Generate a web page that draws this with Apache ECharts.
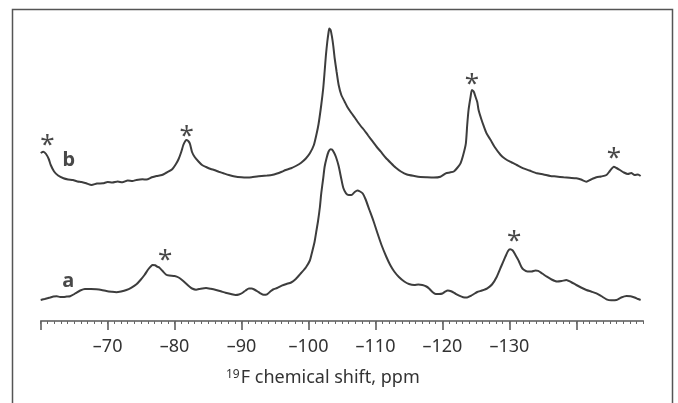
<!DOCTYPE html>
<html>
<head>
<meta charset="utf-8">
<script src="https://cdn.jsdelivr.net/npm/echarts@6/dist/echarts.min.js"></script>
<style>
html,body{margin:0;padding:0;background:#fff;}
#chart{width:678px;height:403px;}
</style>
</head>
<body>
<div id="chart"></div>
<script>
// Trace b (upper spectrum): chemical shift (ppm) and intensity (arb. units)
var ppmB = [-60.0,-60.4,-60.8,-61.2,-61.5,-62.0,-62.6,-63.4,-64.1,-64.8,-65.5,-66.1,-66.8,-67.6,-68.4,-69.3,-70.0,-70.7,-71.5,-72.2,-73.0,-73.7,-74.3,-75.2,-75.8,-76.6,-77.3,-78.1,-78.8,-79.6,-80.2,-80.6,-81.0,-81.3,-81.6,-81.8,-82.1,-82.3,-82.6,-83.0,-83.6,-84.1,-84.7,-85.4,-85.9,-86.6,-87.4,-88.1,-89.0,-90.0,-90.8,-91.5,-92.3,-93.0,-93.8,-94.5,-95.3,-96.0,-96.6,-97.4,-98.1,-98.9,-99.6,-100.2,-100.8,-101.2,-101.5,-101.9,-102.2,-102.4,-102.6,-102.8,-103.0,-103.1,-103.3,-103.5,-103.7,-103.9,-104.2,-104.5,-104.9,-105.4,-105.8,-106.4,-106.9,-107.3,-107.8,-108.3,-108.9,-109.6,-110.2,-110.8,-111.5,-112.3,-113.0,-113.8,-114.7,-115.8,-116.7,-117.7,-118.7,-119.7,-120.5,-121.1,-121.7,-122.2,-122.7,-123.1,-123.5,-123.7,-123.9,-124.2,-124.4,-124.7,-124.9,-125.2,-125.4,-125.8,-126.2,-126.6,-127.2,-127.8,-128.7,-129.3,-130.1,-131.1,-132.1,-133.0,-134.1,-135.1,-136.1,-137.0,-138.1,-139.0,-140.0,-140.7,-141.5,-142.2,-143.0,-143.7,-144.5,-145.0,-145.6,-146.0,-146.5,-147.1,-147.7,-148.2,-148.7,-149.2,-149.6];
var intB = [168,169.3,167,162,156,149.5,145.5,142.7,141.5,141,139.5,139,137.7,136,137.5,137.7,139,138.5,139.5,138.7,140.5,140,141,141.7,141.5,143.7,145,146,148.5,151.5,157,162,169.3,176,180,181,179.5,177,169,164,159.3,156,154,152,151,149.3,147.5,146,144.5,143.7,143.5,143.7,144.5,145,145.5,146,147.5,149.3,151,152.7,155,158.3,162.5,167.7,176,187,197,216,233,249,266,279,289,292.5,291,284.3,275,263,249,236,226,219.3,214,208,203.5,199.5,195,191,185.5,179.3,174,169.3,163.5,158,153.5,149.5,146.5,145,144,143.7,143.5,144.3,147.7,148.5,149.5,153,157.7,166,177.7,196,211,224,231,229,225,219,211,202,194.3,187.5,181,174,166,162.5,159.3,156,152.7,150.5,147.7,146.5,145,144.5,143.7,143.2,142.7,141.5,139.3,141.5,143.7,144.5,146,150,154.3,153,151,148.5,147,148,146,146.5,145];

// Trace a (lower spectrum)
var ppmA = [-60.0,-60.6,-61.4,-61.9,-62.4,-62.9,-63.4,-63.9,-64.4,-64.9,-65.3,-65.9,-66.6,-67.5,-68.3,-69.1,-69.8,-70.6,-71.3,-72.0,-72.8,-73.5,-74.3,-74.9,-75.5,-76.1,-76.5,-76.7,-77.1,-77.4,-77.7,-78.2,-78.7,-79.2,-80.0,-80.6,-81.2,-81.7,-82.2,-82.6,-83.2,-83.9,-84.7,-85.4,-86.2,-86.9,-87.6,-88.4,-89.1,-89.6,-90.1,-90.6,-91.1,-91.5,-91.9,-92.4,-92.8,-93.3,-93.8,-94.3,-94.7,-95.3,-96.0,-96.7,-97.4,-98.1,-98.9,-99.6,-100.2,-100.5,-100.9,-101.2,-101.4,-101.7,-101.9,-102.2,-102.4,-102.7,-103.0,-103.3,-103.5,-103.8,-104.1,-104.5,-104.9,-105.2,-105.6,-106.0,-106.4,-106.9,-107.3,-107.7,-108.1,-108.5,-109.1,-109.7,-110.3,-110.9,-111.6,-112.2,-112.8,-113.5,-114.3,-115.0,-115.8,-116.4,-117.0,-117.6,-118.0,-118.5,-119.0,-119.5,-120.0,-120.4,-120.8,-121.3,-121.9,-122.5,-123.1,-123.7,-124.2,-124.7,-125.2,-125.9,-126.7,-127.4,-128.1,-128.8,-129.4,-129.8,-130.1,-130.5,-130.9,-131.4,-131.8,-132.1,-132.7,-133.3,-133.9,-134.3,-134.9,-135.6,-136.3,-137.1,-137.8,-138.5,-139.2,-140.0,-140.7,-141.5,-142.2,-143.0,-143.7,-144.5,-145.2,-146.0,-146.7,-147.5,-148.1,-148.7,-149.2,-149.6];
var intA = [21,22,23.5,24.5,24.7,24,24,24.5,24.8,26.5,28.2,30.5,32,32,31.7,31,30,29.2,28.7,29.5,31,33.2,36.7,41,46,52,55,56,55.7,54.3,53.5,50,46.5,45.5,45,43.5,40.5,37.5,34.5,32.5,31.3,32.3,33,32.2,31,29.7,28.3,27,26,26.5,28,30.5,32.5,32.5,31.5,29.5,27.7,26.2,26.7,29.5,31.5,33,35.3,37,38.5,42,48,53.5,60.5,68,79,91,99,114,127.7,143,154,163,169.5,171.8,171.5,168.5,164,155,142,133,127.7,126,126,129,130.5,129.5,127.5,122,111,100,87.7,76,64.5,56,49.5,44,39.5,37,36,36.5,36,34.5,32.5,29,27,27,27.5,29.3,30.5,29.7,27.5,25.3,23.7,23.5,25,27,29,30.5,32.7,36.5,44,55,64.3,70,71.7,70.5,66,60,54,51.5,49.5,49.5,50.5,50.2,47.5,44.3,41.5,39.5,40,41,39,36,33.5,31,29.5,27.7,25,21.7,20.7,21,23.5,25,24.7,23.5,22,21];

// Annotations: asterisks (spinning sidebands) and trace labels
var starPpm = [-61.0, -81.8, -124.4, -145.6, -78.6, -130.7];
var starInt = [181.7, 190, 242.7, 168, 66, 85];
var traceLabels = ['b', 'a'];
var traceLabelPpm = [-64.2, -64.1];
var traceLabelInt = [161, 39.3];

// Axis
var tickLabels = [-70, -80, -90, -100, -110, -120, -130];
var majorTicks = [-60, -70, -80, -90, -100, -110, -120, -130, -140];
var xTitle = 'F chemical shift, ppm';
var xTitleSup = '19';

function zip(xs, ys) { return xs.map(function (x, i) { return [x, ys[i]]; }); }

var FONT = '"Noto Sans", "Open Sans", sans-serif';
var chart = echarts.init(document.getElementById('chart'), null, { renderer: 'canvas' });

var option = {
  animation: false,
  backgroundColor: '#ffffff',
  grid: { left: 40.7, right: 34.7, top: 21, bottom: 82 },
  title: {
    text: '{s|' + xTitleSup + '}{n|' + xTitle + '}',
    left: 221, top: 364,
    textStyle: {
      fontWeight: 'normal',
      rich: {
        s: { fontSize: 12, fontFamily: FONT, fontWeight: 'normal', color: '#333', verticalAlign: 'top', padding: [0, 1, 6, 0] },
        n: { fontSize: 18, fontFamily: FONT, fontWeight: 'normal', color: '#333' }
      }
    }
  },
  xAxis: [{
    type: 'value', min: -150, max: -60, interval: 10, inverse: true,
    axisLine: { show: true, lineStyle: { color: '#555', width: 1.5 } },
    axisTick: { show: true, inside: false, length: 9, customValues: majorTicks, lineStyle: { color: '#555', width: 1.5 } },
    axisLabel: {
      show: true, customValues: tickLabels, margin: 17,
      fontSize: 18, fontFamily: FONT, color: '#333',
      formatter: function (v) { return tickLabels.indexOf(v) >= 0 ? '\u2013' + Math.abs(v) : ''; }
    },
    splitLine: { show: false }
  }, {
    type: 'value', min: -150, max: -60, interval: 1, inverse: true, position: 'bottom',
    axisLine: { show: false },
    axisTick: { show: true, inside: false, length: 3, lineStyle: { color: '#666', width: 1 } },
    axisLabel: { show: false },
    splitLine: { show: false }
  }],
  yAxis: { type: 'value', min: 0, max: 300, show: false },
  series: [
    { name: 'b', type: 'line', data: zip(ppmB, intB), showSymbol: false, smooth: 0.2,
      lineStyle: { color: '#3d3d3d', width: 2 } },
    { name: 'a', type: 'line', data: zip(ppmA, intA), showSymbol: false, smooth: 0.2,
      lineStyle: { color: '#3d3d3d', width: 2 } },
    { name: 'stars', type: 'scatter', data: zip(starPpm, starInt), symbolSize: 2,
      itemStyle: { color: 'rgba(0,0,0,0)' }, z: 10,
      label: { show: true, position: 'inside', formatter: '*', fontSize: 26, fontFamily: FONT, color: '#1a1a1a', offset: [0, 6] } },
    { name: 'labels', type: 'scatter', data: zip(traceLabelPpm, traceLabelInt), symbolSize: 2,
      itemStyle: { color: 'rgba(0,0,0,0)' }, z: 10,
      label: { show: true, position: 'inside', formatter: function (p) { return traceLabels[p.dataIndex]; },
        fontSize: 20, fontWeight: 'bold', fontFamily: FONT, color: '#1a1a1a' } }
  ],
  graphic: [{
    type: 'rect', silent: true, z: 100,
    shape: { x: 12.5, y: 9.5, width: 660, height: 420 },
    style: { fill: 'none', stroke: '#555', lineWidth: 1.5 }
  }]
};
chart.setOption(option);
</script>
</body>
</html>
